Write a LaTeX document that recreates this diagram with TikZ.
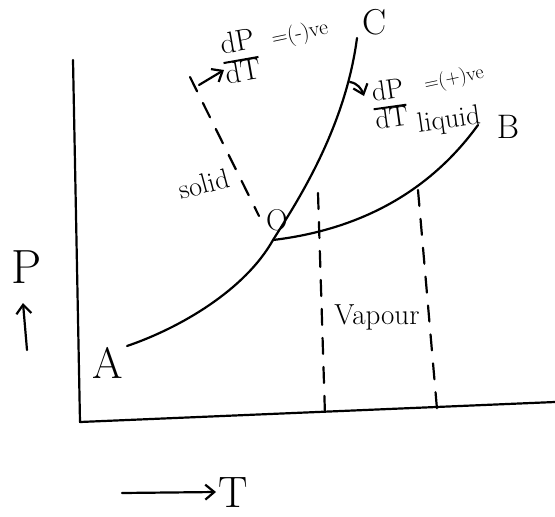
\documentclass[tikz,border=0pt]{standalone}
\usetikzlibrary{arrows.meta}
\tikzset{
  ink/.style={line width=2.2pt, line cap=round, line join=round},
  dashline/.style={ink, dash pattern=on 16pt off 13pt},
  barb/.style={-{Straight Barb[length=9pt,width=15pt]}},
  lbl/.style={inner sep=0pt, font=\fontsize{#1}{#1}\selectfont},
}
\newcommand{\myfrac}[2]{\setlength{\arrayrulewidth}{2pt}\renewcommand{\arraystretch}{0.85}\begin{tabular}{@{}c@{}}#1\\\hline #2\end{tabular}}
\begin{document}
\begin{tikzpicture}[x=1pt,y=-1pt]
\useasboundingbox (0,0) rectangle (555,517);
% axes
\coordinate (ytop) at (73,60);
\coordinate (orig) at (80,422);
\coordinate (xend) at (555,402);
\draw[ink] (ytop) -- (orig) -- (xend);
% curves
\coordinate (A0) at (127,346);
\coordinate (O0) at (273,240);
\coordinate (C0) at (357,38);
\coordinate (B0) at (478,125);
\draw[ink] (A0) .. controls (180,328) and (245,290) .. (O0)
               .. controls (295,205) and (345,130) .. (C0);
\draw[ink] (O0) .. controls (340,232) and (420,205) .. (B0);
% dashed lines
\coordinate (d1a) at (318,193); \coordinate (d1b) at (325,415);
\coordinate (d2a) at (418,190); \coordinate (d2b) at (437,409);
\coordinate (d3a) at (190,77);  \coordinate (d3b) at (259,216);
\draw[dashline] (d1a) -- (d1b);
\draw[dashline] (d2a) -- (d2b);
\draw[dashline] (d3a) -- (d3b);
% labels
\node[lbl=36] (C) at (375,22) {C};
\node[lbl=30] (O) at (277,220) {O};
\node[lbl=34] (B) at (508,127) {B};
\node[lbl=44] (A) at (108,363) {A};
\node[lbl=48] (P) at (27,267) {P};
\node[lbl=28, rotate=15] (solid) at (204,184) {solid};
\node[lbl=28, rotate=8] (liquid) at (449,121) {liquid};
\node[lbl=29] (vap) at (377,317) {Vapour};
\node[lbl=44] (T) at (233,493) {T};
% slopes
\node[lbl=30, rotate=10] (f1) at (241,60) {\myfrac{dP}{dT}};
\node[lbl=22, rotate=12] (f1v) at (300,34) {=(-)ve};
\node[lbl=28, rotate=8] (f2) at (390,107) {\myfrac{dP}{dT}};
\node[lbl=20, rotate=12] (f2v) at (454,79) {=(+)ve};
% arrows
\coordinate (a1s) at (199,85); \coordinate (a1e) at (224,70);
\draw[ink, barb] (a1s) -- (a1e);
\coordinate (a2s) at (350,82); \coordinate (a2e) at (364,96);
\draw[ink, barb] (a2s) to[out=-10,in=110] (a2e);
\coordinate (pa) at (27,350); \coordinate (pb) at (23,303);
\draw[ink, barb] (pa) -- (pb);
\coordinate (ta) at (122,493); \coordinate (tb) at (216,492);
\draw[ink, barb] (ta) -- (tb);
\end{tikzpicture}
\end{document}
